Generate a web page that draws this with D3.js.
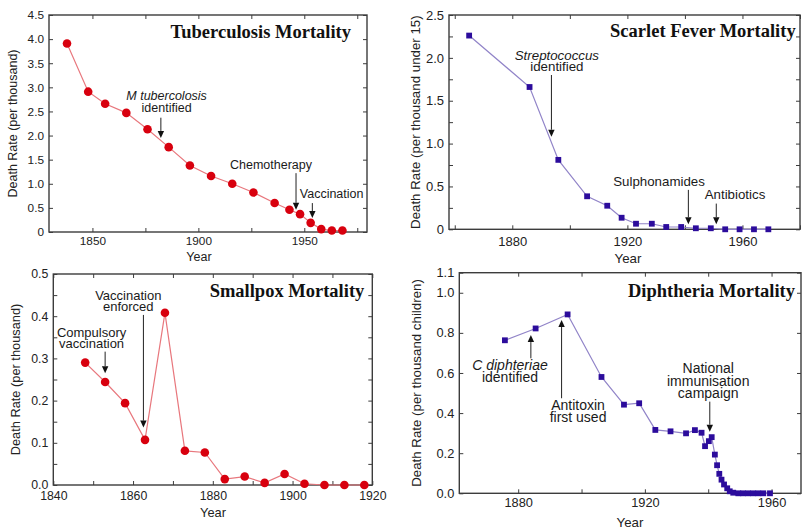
<!DOCTYPE html>
<html>
<head>
<meta charset="utf-8">
<script src="https://cdn.jsdelivr.net/npm/d3@7"></script>
<style>
body { margin: 0; background: #fff; }
svg { display: block; font-family: "Liberation Sans", Arial, sans-serif; }
</style>
</head>
<body>
<script>
var width = 802,
    height = 529;

// values
var tbYears = [1838, 1848, 1856, 1866, 1876, 1886, 1896, 1906, 1916, 1926, 1936, 1943, 1948, 1953, 1958, 1963, 1968];
var tbRates = [3.91, 2.91, 2.66, 2.47, 2.13, 1.76, 1.38, 1.16, 1.00, 0.82, 0.60, 0.46, 0.37, 0.19, 0.06, 0.03, 0.03];

var sfYears = [1865, 1886, 1896, 1906, 1913, 1918, 1923, 1928.5, 1933.5, 1938.7, 1943.8, 1949, 1954, 1959, 1964, 1969];
var sfRates = [2.26, 1.66, 0.81, 0.385, 0.275, 0.135, 0.065, 0.065, 0.027, 0.027, 0.012, 0.012, 0, 0, 0, 0];

var spYears = [1848, 1853, 1858, 1863, 1868, 1873, 1878, 1883, 1888, 1893, 1898, 1903, 1908, 1913, 1918];
var spRates = [0.29, 0.244, 0.194, 0.107, 0.408, 0.081, 0.077, 0.014, 0.020, 0.005, 0.026, 0.003, 0, 0, 0];

var dpYears = [1875.8, 1885.5, 1895.6, 1906.3, 1913.4, 1918.2, 1923.3, 1928.1, 1933, 1935.8, 1937.9,
               1939.0, 1940.2, 1941.1, 1942.1, 1942.8, 1943.5, 1944.2, 1945.0, 1946, 1946.8, 1947.9,
               1949.5, 1951, 1952.6, 1954.2, 1955.8, 1957.4, 1959.5];
var dpRates = [0.763, 0.822, 0.892, 0.580, 0.442, 0.449, 0.316, 0.309, 0.299, 0.315, 0.302,
               0.235, 0.26, 0.28, 0.193, 0.14, 0.097, 0.068, 0.044, 0.025, 0.01, 0.003,
               0, 0, 0, 0, 0, 0, 0];

// annotations, in data units (year, rate)
var tbNotes = [
  {lines: ["M tubercolosis", "identified"], italic: [true, false], tx: 1885, ty: 2.74, ax: 1882.3, from: 2.37, to: 1.95},
  {lines: ["Chemotherapy"], italic: [false], tx: 1934.3, ty: 1.31, ax: 1946.1, from: 1.22, to: 0.46},
  {lines: ["Vaccination"], italic: [false], tx: 1962.9, ty: 0.71, ax: 1953.8, from: 0.60, to: 0.29}
];
var sfNotes = [
  {lines: ["Streptococcus", "identified"], italic: [true, false], tx: 1895.5, ty: 1.98, ax: 1893.6, from: 1.80, to: 1.08},
  {lines: ["Sulphonamides"], italic: [false], tx: 1931, ty: 0.51, ax: 1941.2, from: 0.46, to: 0.06},
  {lines: ["Antibiotics"], italic: [false], tx: 1957.4, ty: 0.35, ax: 1950.9, from: 0.30, to: 0.06}
];
var spNotes = [
  {lines: ["Compulsory", "vaccination"], italic: [false, false], tx: 1849.6, ty: 0.351, ax: 1853, from: 0.316, to: 0.265},
  {lines: ["Vaccination", "enforced"], italic: [false, false], tx: 1858.8, ty: 0.438, ax: 1862.6, from: 0.403, to: 0.136}
];
var dpNotes = [
  {lines: ["C diphteriae", "identified"], italic: [true, false], tx: 1877.4, ty: 0.615, ax: 1884, from: 0.673, to: 0.789},
  {lines: ["Antitoxin", "first used"], italic: [false, false], tx: 1898.9, ty: 0.415, ax: 1893.7, from: 0.474, to: 0.864},
  {lines: ["National", "immunisation", "campaign"], italic: [false, false, false], tx: 1940, ty: 0.598, ax: 1940.5, from: 0.457, to: 0.307}
];

var red = {mark: "#d8000e", line: "#e8777d"},
    blue = {mark: "#2c0c9c", line: "#9184c8"};

var fmtZero = function(d) { return d === 0 ? "0" : d3.format(".1f")(d); },
    fmt1 = d3.format(".1f");

var panels = [
  {title: "Tuberculosis Mortality", years: tbYears, rates: tbRates, notes: tbNotes, shape: "circle", col: red,
   box: [49, 15, 367, 232], xDomain: [1829.5, 1979.6], yDomain: [0, 4.5],
   xTicks: d3.range(1850, 1980, 25), xLabels: [1850, 1900, 1950], xPad: 4.5,
   yTicks: d3.range(0, 4.51, 0.5), yLabels: d3.range(0, 4.51, 0.5), yFormat: fmtZero,
   tickFont: 11.8, noteFont: 12.5, labelFont: 12.5, gap: 12.5,
   ylabel: "Death Rate (per thousand)", ylabelX: 17, xlabelX: 199, xlabelY: 261, titleX: 351, titleY: 38},
  {title: "Scarlet Fever Mortality", years: sfYears, rates: sfRates, notes: sfNotes, shape: "square", col: blue,
   box: [449, 15, 800, 229.3], xDomain: [1858, 1980], yDomain: [0, 2.5],
   xTicks: d3.range(1860, 1981, 20), xLabels: [1880, 1920, 1960], xPad: 7,
   yTicks: d3.range(0, 2.51, 0.25), yLabels: d3.range(0, 2.51, 0.5), yFormat: fmtZero,
   tickFont: 13, noteFont: 13.3, labelFont: 13.3, gap: 11.8,
   ylabel: "Death Rate (per thousand under 15)", ylabelX: 420, xlabelX: 628, xlabelY: 263, titleX: 795.7, titleY: 37.3},
  {title: "Smallpox Mortality", years: spYears, rates: spRates, notes: spNotes, shape: "circle", col: red,
   box: [53.3, 274, 372.3, 485], xDomain: [1840, 1920], yDomain: [0, 0.5],
   xTicks: d3.range(1840, 1921, 10), xLabels: [1840, 1860, 1880, 1900, 1920], xPad: 6,
   yTicks: d3.range(0, 0.501, 0.05), yLabels: d3.range(0, 0.501, 0.1), yFormat: fmt1,
   tickFont: 12.3, noteFont: 13, labelFont: 12.8, gap: 11,
   ylabel: "Death Rate (per thousand)", ylabelX: 20, xlabelX: 213, xlabelY: 516.7, titleX: 364.3, titleY: 296.7},
  {title: "Diphtheria Mortality", years: dpYears, rates: dpRates, notes: dpNotes, shape: "square", col: blue,
   box: [459.3, 272.7, 801, 493.3], xDomain: [1861.4, 1969.3], yDomain: [0, 1.1],
   xTicks: d3.range(1880, 1961, 20), xLabels: [1880, 1920, 1960], xPad: 5,
   yTicks: [0, 0.2, 0.4, 0.6, 0.8, 1.0, 1.1], yLabels: [0, 0.2, 0.4, 0.6, 0.8, 1.0, 1.1], yFormat: fmt1,
   tickFont: 12.8, noteFont: 14, labelFont: 13.3, gap: 12.3,
   ylabel: "Death Rate (per thousand children)", ylabelX: 421, xlabelX: 630, xlabelY: 526.7, titleX: 795, titleY: 296.7}
];

var svg = d3.select("body").append("svg")
    .attr("width", width)
    .attr("height", height);

svg.append("rect").attr("width", width).attr("height", height).attr("fill", "#fff");

var axisColor = "#3c3c3c";

function hasLabel(list, d) {
  return list.some(function(v) { return Math.abs(v - d) < 1e-6; });
}

function drawPanel(p) {
  var x = d3.scaleLinear().domain(p.xDomain).range([p.box[0], p.box[2]]);
  var y = d3.scaleLinear().domain(p.yDomain).range([p.box[3], p.box[1]]);
  var g = svg.append("g");

  // inward ticks on all four sides
  var bottom = g.append("g")
      .attr("transform", "translate(0," + p.box[3] + ")")
      .call(d3.axisBottom(x).tickValues(p.xTicks).tickSizeInner(-4).tickSizeOuter(0).tickPadding(p.xPad)
        .tickFormat(function(d) { return hasLabel(p.xLabels, d) ? d : ""; }));
  var top = g.append("g")
      .attr("transform", "translate(0," + p.box[1] + ")")
      .call(d3.axisTop(x).tickValues(p.xTicks).tickSizeInner(-4).tickSizeOuter(0).tickFormat(""));
  var left = g.append("g")
      .attr("transform", "translate(" + p.box[0] + ",0)")
      .call(d3.axisLeft(y).tickValues(p.yTicks).tickSizeInner(-4).tickSizeOuter(0).tickPadding(5)
        .tickFormat(function(d) { return hasLabel(p.yLabels, d) ? p.yFormat(d) : ""; }));
  var right = g.append("g")
      .attr("transform", "translate(" + p.box[2] + ",0)")
      .call(d3.axisRight(y).tickValues(p.yTicks).tickSizeInner(-4).tickSizeOuter(0).tickFormat(""));

  [bottom, top, left, right].forEach(function(a) {
    a.select(".domain").remove();
    a.selectAll(".tick line").attr("stroke", axisColor).attr("stroke-width", 1);
    a.selectAll("text").attr("font-size", p.tickFont).attr("font-family", "Liberation Sans, Arial, sans-serif").attr("fill", "#222");
  });

  g.append("rect")
      .attr("x", p.box[0]).attr("y", p.box[1])
      .attr("width", p.box[2] - p.box[0]).attr("height", p.box[3] - p.box[1])
      .attr("fill", "none").attr("stroke", axisColor).attr("stroke-width", 1.4);

  // series
  var pts = p.years.map(function(yr, i) { return [yr, p.rates[i]]; });
  var line = d3.line().x(function(d) { return x(d[0]); }).y(function(d) { return y(d[1]); });
  g.append("path").datum(pts)
      .attr("d", line).attr("fill", "none")
      .attr("stroke", p.col.line).attr("stroke-width", 1.2);

  if (p.shape === "circle") {
    g.selectAll(".pt").data(pts).enter().append("circle")
        .attr("cx", function(d) { return x(d[0]); })
        .attr("cy", function(d) { return y(d[1]); })
        .attr("r", 4.3)
        .attr("fill", p.col.mark);
  } else {
    g.selectAll(".pt").data(pts).enter().append("rect")
        .attr("x", function(d) { return x(d[0]) - 2.9; })
        .attr("y", function(d) { return y(d[1]) - 2.9; })
        .attr("width", 5.8).attr("height", 5.8)
        .attr("fill", p.col.mark);
  }

  // annotations with arrows
  p.notes.forEach(function(n) {
    var t = g.append("text")
        .attr("x", x(n.tx)).attr("y", y(n.ty))
        .attr("text-anchor", "middle")
        .attr("font-size", p.noteFont).attr("fill", "#1a1a1a");
    n.lines.forEach(function(s, i) {
      t.append("tspan")
          .attr("x", x(n.tx)).attr("dy", i ? p.gap : 0)
          .attr("font-style", n.italic[i] ? "italic" : "normal")
          .text(s);
    });
    var ax = x(n.ax), y0 = y(n.from), y1 = y(n.to);
    var dir = y1 > y0 ? 1 : -1, head = 7, hw = 3.2;
    g.append("line")
        .attr("x1", ax).attr("x2", ax)
        .attr("y1", y0).attr("y2", y1 - dir * head)
        .attr("stroke", "#222").attr("stroke-width", 1);
    g.append("path")
        .attr("d", "M" + (ax - hw) + "," + (y1 - dir * head) + "L" + (ax + hw) + "," + (y1 - dir * head) + "L" + ax + "," + y1 + "Z")
        .attr("fill", "#111");
  });

  // titles and axis labels
  g.append("text")
      .attr("x", p.titleX).attr("y", p.titleY)
      .attr("text-anchor", "end")
      .attr("font-family", "Liberation Serif, Times New Roman, serif")
      .attr("font-weight", "bold").attr("font-size", 18.5)
      .attr("fill", "#111")
      .text(p.title);

  g.append("text")
      .attr("transform", "translate(" + p.ylabelX + "," + ((p.box[1] + p.box[3]) / 2) + ") rotate(-90)")
      .attr("text-anchor", "middle").attr("font-size", p.labelFont).attr("fill", "#222")
      .text(p.ylabel);

  g.append("text")
      .attr("x", p.xlabelX).attr("y", p.xlabelY)
      .attr("text-anchor", "middle").attr("font-size", p.labelFont).attr("fill", "#222")
      .text("Year");
}

panels.forEach(drawPanel);
</script>
</body>
</html>
